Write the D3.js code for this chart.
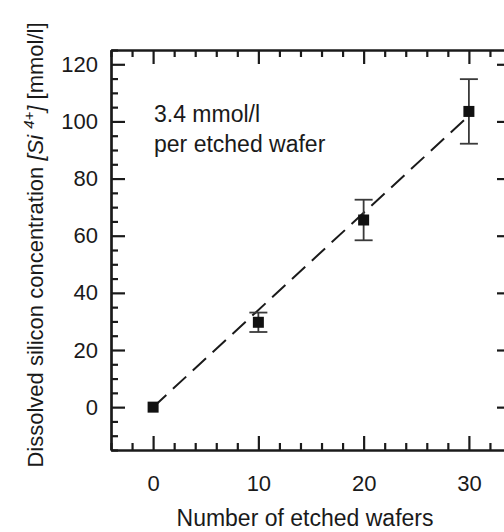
<!DOCTYPE html>
<html>
<head>
<meta charset="utf-8">
<script src="https://cdn.jsdelivr.net/npm/d3@7"></script>
<style>
  html, body { margin: 0; padding: 0; background: #fff; }
  svg { display: block; }
  text { font-family: "Liberation Sans", Arial, sans-serif; fill: #1a1a1a; }
</style>
</head>
<body>
<svg id="chart" width="504" height="532"></svg>
<script>
// Measured silicon concentration after etching wafers
const wafers = [0, 10, 20, 30];
const concentration = [0, 29.7, 65.5, 103.5];
const errors = [0, 3.4, 7.1, 11.3];
const slope = 3.4;          // mmol/l per etched wafer (linear fit)
const xTicks = [0, 10, 20, 30];
const yTicks = [0, 20, 40, 60, 80, 100, 120];

const svg = d3.select("#chart");
const frame = { left: 111, top: 50, size: 400 };

const x = d3.scaleLinear().domain([-4, 34]).range([frame.left, frame.left + frame.size]);
const y = d3.scaleLinear().domain([-15, 125]).range([frame.top + frame.size, frame.top]);

const ink = "#1a1a1a";
const xMinor = d3.range(-4, 35, 2).filter(v => v % 10 !== 0);
const yMinor = d3.range(-15, 126, 5).filter(v => v % 20 !== 0);

// Axes with inward ticks on all four sides
function styleAxis(g) {
  g.selectAll("path.domain").attr("stroke", ink).attr("stroke-width", 2.2);
  g.selectAll(".tick line").attr("stroke", ink).attr("stroke-width", 2.2);
  g.selectAll(".tick text").attr("font-size", 22).attr("fill", ink);
}

const bottomY = y(-15), topY = y(125), leftX = x(-4), rightX = x(34);

// minor ticks
svg.append("g").attr("transform", `translate(0,${bottomY})`)
  .call(d3.axisBottom(x).tickValues(xMinor).tickSize(-7).tickSizeOuter(0).tickFormat(""))
  .call(styleAxis);
svg.append("g").attr("transform", `translate(0,${topY})`)
  .call(d3.axisTop(x).tickValues(xMinor).tickSize(-7).tickSizeOuter(0).tickFormat(""))
  .call(styleAxis);
svg.append("g").attr("transform", `translate(${leftX},0)`)
  .call(d3.axisLeft(y).tickValues(yMinor).tickSize(-7).tickSizeOuter(0).tickFormat(""))
  .call(styleAxis);
svg.append("g").attr("transform", `translate(${rightX},0)`)
  .call(d3.axisRight(y).tickValues(yMinor).tickSize(-7).tickSizeOuter(0).tickFormat(""))
  .call(styleAxis);

// major ticks with labels
svg.append("g").attr("transform", `translate(0,${bottomY})`)
  .call(d3.axisBottom(x).tickValues(xTicks).tickSize(-14).tickSizeOuter(0).tickPadding(25))
  .call(styleAxis);
svg.append("g").attr("transform", `translate(0,${topY})`)
  .call(d3.axisTop(x).tickValues(xTicks).tickSize(-14).tickSizeOuter(0).tickFormat(""))
  .call(styleAxis);
svg.append("g").attr("transform", `translate(${leftX},0)`)
  .call(d3.axisLeft(y).tickValues(yTicks).tickSize(-14).tickSizeOuter(0).tickPadding(13))
  .call(styleAxis);
svg.append("g").attr("transform", `translate(${rightX},0)`)
  .call(d3.axisRight(y).tickValues(yTicks).tickSize(-14).tickSizeOuter(0).tickFormat(""))
  .call(styleAxis);

// Linear fit
svg.append("line")
  .attr("x1", x(0)).attr("y1", y(0))
  .attr("x2", x(30)).attr("y2", y(slope * 30))
  .attr("stroke", ink).attr("stroke-width", 2)
  .attr("stroke-dasharray", "18,9");

// Error bars
const bars = svg.append("g").attr("stroke", "#3a3a3a").attr("stroke-width", 1.8);
wafers.forEach((w, i) => {
  if (errors[i] <= 0) return;
  const cx = x(w), top = y(concentration[i] + errors[i]), bot = y(concentration[i] - errors[i]);
  bars.append("line").attr("x1", cx).attr("x2", cx).attr("y1", top).attr("y2", bot);
  bars.append("line").attr("x1", cx - 9).attr("x2", cx + 9).attr("y1", top).attr("y2", top);
  bars.append("line").attr("x1", cx - 9).attr("x2", cx + 9).attr("y1", bot).attr("y2", bot);
});

// Data markers
const m = 11;
svg.append("g").selectAll("rect").data(wafers).join("rect")
  .attr("x", d => x(d) - m / 2)
  .attr("y", (d, i) => y(concentration[i]) - m / 2)
  .attr("width", m).attr("height", m)
  .attr("fill", "#111");

// Annotation
const note = svg.append("text").attr("font-size", 23).attr("x", 154).attr("y", 122);
note.append("tspan").attr("x", 154).text("3.4 mmol/l");
note.append("tspan").attr("x", 154).attr("dy", 30).text("per etched wafer");

// Axis titles
svg.append("text")
  .attr("x", 305).attr("y", 526)
  .attr("text-anchor", "middle").attr("font-size", 23)
  .text("Number of etched wafers");

const yt = svg.append("text")
  .attr("transform", "translate(43,245) rotate(-90)")
  .attr("text-anchor", "middle").attr("font-size", 22);
yt.append("tspan").text("Dissolved silicon concentration ");
yt.append("tspan").attr("font-style", "italic").text("[Si ");
yt.append("tspan").attr("font-style", "italic").attr("font-size", 15).attr("dy", -9).text("4+");
yt.append("tspan").attr("font-style", "italic").attr("dy", 9).text("]");
yt.append("tspan").text(" [mmol/l]");
</script>
</body>
</html>
